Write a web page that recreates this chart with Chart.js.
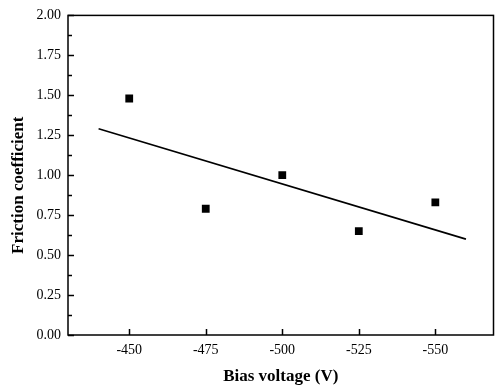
<!DOCTYPE html>
<html>
<head>
<meta charset="utf-8">
<script src="https://cdn.jsdelivr.net/npm/chart.js@4.4.1/dist/chart.umd.min.js"></script>
<style>
    html, body { margin: 0; padding: 0; background: #fff; }
    #wrap { width: 499px; height: 387px; position: relative; }
</style>
</head>
<body>
<div id="wrap"><canvas id="chart"></canvas></div>
<script>
    const biasVoltage = [-450, -475, -500, -525, -550];
    const frictionCoef = [1.48, 0.79, 1.00, 0.65, 0.83];
    const fitVoltage = [-440, -560];
    const fitCoef = [1.29, 0.60];
    const xTicks = [-450, -475, -500, -525, -550];
    const yTicks = [0, 0.25, 0.5, 0.75, 1.0, 1.25, 1.5, 1.75, 2.0];
    const yTitle = 'Friction coefficient';

    const serif = '"Liberation Serif", "Times New Roman", serif';

    // inward ticks + frame, drawn from the chart's own scales
    const frameTicks = {
        id: 'frameTicks',
        afterDraw(chart) {
            const { ctx, chartArea: a, scales: { x, y } } = chart;
            ctx.save();
            ctx.strokeStyle = '#000';
            ctx.lineWidth = 1.5;
            ctx.strokeRect(a.left, a.top, a.right - a.left, a.bottom - a.top);
            ctx.beginPath();
            for (let i = 0; i < yTicks.length; i++) {
                const py = Math.round(y.getPixelForValue(yTicks[i])) + 0.5;
                ctx.moveTo(a.left, py); ctx.lineTo(a.left + 6, py);
                if (i < yTicks.length - 1) {
                    const pm = Math.round(y.getPixelForValue((yTicks[i] + yTicks[i + 1]) / 2)) + 0.5;
                    ctx.moveTo(a.left, pm); ctx.lineTo(a.left + 4, pm);
                }
            }
            for (const v of xTicks) {
                const px = Math.round(x.getPixelForValue(v)) + 0.5;
                ctx.moveTo(px, a.bottom); ctx.lineTo(px, a.bottom - 6);
            }
            ctx.stroke();

            // y title sits a bit below the middle in the original
            ctx.translate(19, (a.top + a.bottom) / 2 + 10);
            ctx.rotate(-Math.PI / 2);
            ctx.fillStyle = '#000';
            ctx.font = 'bold 17px ' + serif;
            ctx.textAlign = 'center';
            ctx.textBaseline = 'middle';
            ctx.fillText(yTitle, 0, 0);
            ctx.restore();
        }
    };

    new Chart(document.getElementById('chart'), {
        type: 'scatter',
        data: {
            datasets: [
                {
                    label: 'Friction coefficient',
                    data: biasVoltage.map((v, i) => ({ x: v, y: frictionCoef[i] })),
                    pointStyle: 'rect',
                    pointRadius: 5.5,
                    backgroundColor: '#000',
                    borderColor: '#000',
                    borderWidth: 0,
                },
                {
                    label: 'Linear fit',
                    data: fitVoltage.map((v, i) => ({ x: v, y: fitCoef[i] })),
                    showLine: true,
                    pointRadius: 0,
                    borderColor: '#000',
                    borderWidth: 1.6,
                }
            ]
        },
        options: {
            responsive: true,
            maintainAspectRatio: false,
            animation: false,
            layout: { padding: { top: 13, right: 4, left: 0, bottom: 0 } },
            plugins: {
                legend: { display: false },
                tooltip: { enabled: false },
            },
            scales: {
                x: {
                    type: 'linear',
                    reverse: true,
                    min: -569,
                    max: -430,
                    grid: { display: false, drawTicks: false },
                    border: { display: false },
                    afterBuildTicks: s => { s.ticks = xTicks.map(v => ({ value: v })); },
                    afterFit: s => { s.height = 52; },
                    ticks: {
                        color: '#000',
                        padding: 7,
                        maxRotation: 0,
                        font: { family: serif, size: 14 },
                        callback: v => String(v),
                    },
                    title: {
                        display: true,
                        text: 'Bias voltage (V)',
                        color: '#000',
                        font: { family: serif, size: 17, weight: 'bold' },
                        padding: { top: 0, bottom: 0 },
                    }
                },
                y: {
                    min: 0,
                    max: 2,
                    grid: { display: false, drawTicks: false },
                    border: { display: false },
                    afterBuildTicks: s => { s.ticks = yTicks.map(v => ({ value: v })); },
                    afterFit: s => { s.width = 68; },
                    ticks: {
                        color: '#000',
                        padding: 7,
                        font: { family: serif, size: 14 },
                        callback: v => Number(v).toFixed(2),
                    },
                }
            }
        },
        plugins: [frameTicks]
    });
</script>
</body>
</html>
